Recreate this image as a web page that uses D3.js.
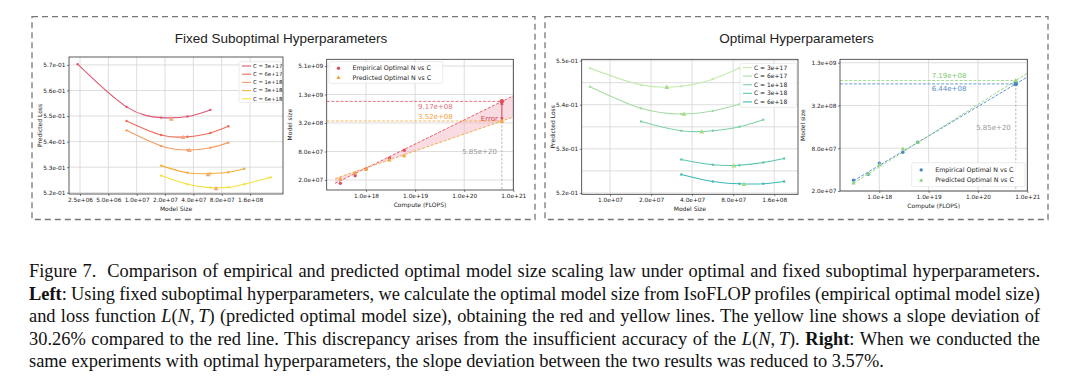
<!DOCTYPE html>
<html lang="en">
<head>
<meta charset="UTF-8">
<title>Figure 7 - optimal model size scaling</title>
<script src="https://d3js.org/d3.v7.min.js"></script>
<style>
  html, body { margin: 0; padding: 0; background: #fff; }
  svg { display: block; }
  .tick text { font-family: "DejaVu Sans", sans-serif; fill: #222; }
</style>
</head>
<body>
<div id="chart"></div>
<script>
// ---- data ----
const budgetLabels = ["C = 3e+17", "C = 6e+17", "C = 1e+18", "C = 3e+18", "C = 6e+18"];

// IsoFLOP profiles, fixed suboptimal hyperparameters
const fixedSizes = [
  [2.36e6, 7.8e6, 1.82e7, 3.46e7, 6.06e7],
  [7.8e6, 1.82e7, 3.46e7, 6.06e7, 9.4e7],
  [7.8e6, 1.82e7, 3.46e7, 6.06e7, 9.4e7],
  [1.82e7, 3.46e7, 6.06e7, 9.4e7, 1.39e8],
  [1.82e7, 3.46e7, 6.06e7, 9.4e7, 1.39e8, 2.65e8]
];
const fixedLoss = [
  [0.5703, 0.5536, 0.5494, 0.5498, 0.5524],
  [0.5481, 0.5426, 0.5419, 0.5434, 0.5460],
  [0.5444, 0.5383, 0.5367, 0.5376, 0.5396],
  [0.5306, 0.5278, 0.5275, 0.5280, 0.5294],
  [0.5267, 0.5233, 0.5220, 0.5221, 0.5233, 0.5260]
];
const fixedMinN = [2.33e7, 3.11e7, 3.63e7, 5.72e7, 6.96e7];
const fixedMinLoss = [0.5489, 0.5417, 0.5366, 0.5272, 0.5217];

// IsoFLOP profiles, optimal hyperparameters
const optSizes = [
  [7.13e6, 1.69e7, 3.33e7, 5.67e7, 8.9e7],
  [7.13e6, 1.69e7, 3.33e7, 5.67e7, 8.9e7],
  [1.69e7, 3.33e7, 5.67e7, 8.9e7, 1.33e8],
  [3.33e7, 5.67e7, 8.9e7, 1.33e8, 1.89e8],
  [3.33e7, 5.67e7, 8.9e7, 1.33e8, 1.89e8]
];
const optLoss = [
  [0.5483, 0.5445, 0.5442, 0.5458, 0.5483],
  [0.5441, 0.5392, 0.5379, 0.5386, 0.5401],
  [0.5362, 0.5341, 0.5341, 0.5350, 0.5366],
  [0.5276, 0.5264, 0.5263, 0.5269, 0.5278],
  [0.5242, 0.5226, 0.5221, 0.5221, 0.5226]
];
const optMinN = [2.61e7, 3.49e7, 4.7e7, 8.1e7, 9.6e7];
const optMinLoss = [0.5440, 0.5379, 0.5339, 0.5262, 0.5220];

// optimal N vs compute
const computeC = [3e17, 6e17, 1e18, 3e18, 6e18, 5.85e20];
const fixedEmpN = [1.70e7, 2.46e7, 3.42e7, 5.8e7, 8.5e7, 9.17e8];
const fixedPredN = [2.13e7, 2.85e7, 3.42e7, 5.3e7, 6.5e7, 3.52e8];
const optEmpN = [2.83e7, 3.45e7, 4.94e7, 7.04e7, 9.7e7, 6.44e8];
const optPredN = [2.59e7, 3.51e7, 4.68e7, 7.9e7, 9.7e7, 7.19e8];

// fitted power-law lines (end points)
const fixedFitC = [2.34e17, 1e21];
const fixedFitEmp = [1.7e7, 1.2e9];
const fixedFitPred = [2.14e7, 4.27e8];
const optFitC = [3e17, 1e21];
const optFitEmp = [2.78e7, 8.04e8];
const optFitPred = [2.56e7, 9.1e8];

// ticks
const sizeTicksFixed = [2.5e6, 5e6, 1e7, 2e7, 4e7, 8e7, 1.6e8];
const sizeTickLabelsFixed = ["2.5e+06", "5.0e+06", "1.0e+07", "2.0e+07", "4.0e+07", "8.0e+07", "1.6e+08"];
const lossTicksFixed = [0.52, 0.53, 0.54, 0.55, 0.56, 0.57];
const lossTickLabelsFixed = ["5.2e-01", "5.3e-01", "5.4e-01", "5.5e-01", "5.6e-01", "5.7e-01"];
const sizeTicksOpt = [1e7, 2e7, 4e7, 8e7, 1.6e8];
const sizeTickLabelsOpt = ["1.0e+07", "2.0e+07", "4.0e+07", "8.0e+07", "1.6e+08"];
const lossTicksOpt = [0.52, 0.53, 0.54, 0.55];
const lossTickLabelsOpt = ["5.2e-01", "5.3e-01", "5.4e-01", "5.5e-01"];
const lossGridOpt = [0.52, 0.525, 0.53, 0.535, 0.54, 0.545, 0.55];
const computeTicks = [1e18, 1e19, 1e20, 1e21];
const computeTickLabels = ["1.0e+18", "1.0e+19", "1.0e+20", "1.0e+21"];
const nTicksFixed = [2e7, 8e7, 3.2e8, 1.28e9, 5.12e9];
const nTickLabelsFixed = ["2.0e+07", "8.0e+07", "3.2e+08", "1.3e+09", "5.1e+09"];
const nTicksOpt = [2e7, 8e7, 3.2e8, 1.28e9];
const nTickLabelsOpt = ["2.0e+07", "8.0e+07", "3.2e+08", "1.3e+09"];

const fixedColors = ["#e05670", "#ee6a55", "#f59c62", "#f7ae3a", "#f5e03c"];
const optColors = ["#c6eaae", "#a6dca3", "#7fd0a8", "#5cc6b0", "#3cbab8"];

// ---- drawing ----
const W = 1080, H = 388;
const SANS = "'DejaVu Sans', sans-serif";
const svg = d3.select("#chart").append("svg").attr("width", W).attr("height", H);

// dashed group boxes
[[32, 16.7, 535, 219.5], [545, 16.7, 1048, 219.5]].forEach(b => {
  svg.append("rect").attr("x", b[0]).attr("y", b[1])
    .attr("width", b[2] - b[0]).attr("height", b[3] - b[1])
    .attr("fill", "none").attr("stroke", "#777").attr("stroke-width", 1.3)
    .attr("stroke-dasharray", "6,4");
});
svg.append("text").attr("x", 281).attr("y", 42.5).attr("text-anchor", "middle")
  .attr("font-family", "'Liberation Sans', Arial, sans-serif").attr("font-size", 13.5).attr("fill", "#222")
  .text("Fixed Suboptimal Hyperparameters");
svg.append("text").attr("x", 796.5).attr("y", 42.5).attr("text-anchor", "middle")
  .attr("font-family", "'Liberation Sans', Arial, sans-serif").attr("font-size", 13.5).attr("fill", "#222")
  .text("Optimal Hyperparameters");

function panel(o) {
  const x = (o.xlog ? d3.scaleLog() : d3.scaleLinear()).domain(o.xd).range([o.l, o.r]);
  const y = (o.ylog ? d3.scaleLog() : d3.scaleLinear()).domain(o.yd).range([o.b, o.t]);
  const g = svg.append("g");
  g.append("rect").attr("x", o.l).attr("y", o.t).attr("width", o.r - o.l).attr("height", o.b - o.t)
    .attr("fill", "#fff");
  g.append("g").selectAll("line").data(o.xgrid).join("line")
    .attr("x1", d => x(d)).attr("x2", d => x(d)).attr("y1", o.t).attr("y2", o.b)
    .attr("stroke", "#d4d4d4").attr("stroke-width", 0.8);
  g.append("g").selectAll("line").data(o.ygrid).join("line")
    .attr("y1", d => y(d)).attr("y2", d => y(d)).attr("x1", o.l).attr("x2", o.r)
    .attr("stroke", "#d4d4d4").attr("stroke-width", 0.8);

  const ax = g.append("g").attr("transform", `translate(0,${o.b})`)
    .call(d3.axisBottom(x).tickValues(o.xticks).tickFormat((d, i) => o.xlabels[i])
      .tickSize(2).tickPadding(1.5));
  const ay = g.append("g").attr("transform", `translate(${o.l},0)`)
    .call(d3.axisLeft(y).tickValues(o.yticks).tickFormat((d, i) => o.ylabels[i])
      .tickSize(2).tickPadding(1.5));
  [ax, ay].forEach(a => {
    a.select(".domain").remove();
    a.selectAll(".tick line").attr("stroke", "#333").attr("stroke-width", 0.6);
    a.selectAll(".tick text").attr("font-size", 5.8);
  });
  g.append("text").attr("x", (o.l + o.r) / 2).attr("y", o.b + 16.5).attr("text-anchor", "middle")
    .attr("font-family", SANS).attr("font-size", 6).attr("fill", "#222").text(o.xtitle);
  g.append("text").attr("transform", `translate(${o.ytx},${(o.t + o.b) / 2}) rotate(-90)`)
    .attr("text-anchor", "middle").attr("dy", "0.35em")
    .attr("font-family", SANS).attr("font-size", 6).attr("fill", "#222").text(o.ytitle);
  const marks = svg.append("g");
  const top = svg.append("g");
  top.append("rect").attr("x", o.l).attr("y", o.t).attr("width", o.r - o.l).attr("height", o.b - o.t)
    .attr("fill", "none").attr("stroke", "#333").attr("stroke-width", 0.8);
  return { x, y, marks, top, o };
}

function triangle(sel, cx, cy, s, color) {
  sel.append("path")
    .attr("d", `M${cx},${cy - s}L${cx + s * 0.95},${cy + s * 0.7}L${cx - s * 0.95},${cy + s * 0.7}Z`)
    .attr("fill", color);
}

function isoflop(p, sizes, losses, minN, minLoss, colors, triColor, legendBox) {
  const line = d3.line().x(d => p.x(d[0])).y(d => p.y(d[1])).curve(d3.curveNatural);
  sizes.forEach((s, k) => {
    const pts = s.map((n, i) => [n, losses[k][i]]);
    p.marks.append("path").attr("d", line(pts)).attr("fill", "none")
      .attr("stroke", colors[k]).attr("stroke-width", 1.1);
    p.marks.selectAll(null).data(pts).join("circle")
      .attr("cx", d => p.x(d[0])).attr("cy", d => p.y(d[1])).attr("r", 1.2).attr("fill", colors[k]);
  });
  minN.forEach((n, k) => triangle(p.marks, p.x(n), p.y(minLoss[k]), 2.6, triColor));
  // legend
  const [lx, ly, lw, lh, fs, step, y0] = legendBox;
  p.top.append("rect").attr("x", lx).attr("y", ly).attr("width", lw).attr("height", lh).attr("rx", 1.5)
    .attr("fill", "#fff").attr("fill-opacity", 0.85).attr("stroke", "#ddd").attr("stroke-width", 0.6);
  budgetLabels.forEach((t, k) => {
    const yy = y0 + k * step;
    p.top.append("line").attr("x1", lx + 3).attr("x2", lx + 12).attr("y1", yy).attr("y2", yy)
      .attr("stroke", colors[k]).attr("stroke-width", 1.1);
    p.top.append("text").attr("x", lx + 14).attr("y", yy).attr("dy", "0.35em")
      .attr("font-family", SANS).attr("font-size", fs).attr("fill", "#222").text(t);
  });
}

function scaling(p, emp, pred, fitEmp, fitPred, cEmp, cPred, cFill, lblE, lblP, lblEdy, lblPdy, lblX, showError, legendPos) {
  const { x, y, marks, top, o } = p;
  const last = computeC.length - 1;
  const xc = x(computeC[last]);
  if (cFill) {
    const area = d3.area().x(d => x(d[0])).y0(d => y(d[1])).y1(d => y(d[2]));
    marks.append("path").attr("d", area(fixedFitC.map((c, i) => [c, fitEmp[i], fitPred[i]])))
      .attr("fill", cFill).attr("fill-opacity", 0.45);
  }
  const fitC = cFill ? fixedFitC : optFitC;
  const fl = d3.line().x(d => x(d[0])).y(d => y(d[1]));
  [[fitEmp, cEmp], [fitPred, cPred]].forEach(([f, c]) => {
    marks.append("path").attr("d", fl(fitC.map((cc, i) => [cc, f[i]])))
      .attr("fill", "none").attr("stroke", c).attr("stroke-width", 0.9).attr("stroke-dasharray", "3,1.6");
  });
  // reference lines to the extrapolated point
  [[emp[last], cEmp], [pred[last], cPred]].forEach(([n, c]) => {
    marks.append("line").attr("x1", o.l).attr("x2", xc).attr("y1", y(n)).attr("y2", y(n))
      .attr("stroke", c).attr("stroke-width", 0.8).attr("stroke-dasharray", "3,1.6");
  });
  const lowY = Math.max(y(emp[last]), y(pred[last]));
  marks.append("line").attr("x1", xc).attr("x2", xc).attr("y1", lowY).attr("y2", o.b)
    .attr("stroke", "#aaa").attr("stroke-width", 0.8).attr("stroke-dasharray", "2.5,1.6");
  marks.append("text").attr("x", xc - 5).attr("y", o.yC).attr("dy", "0.35em").attr("text-anchor", "end")
    .attr("font-family", SANS).attr("font-size", 7).attr("fill", "#999").text("5.85e+20");
  marks.append("text").attr("x", lblX).attr("y", y(emp[last]) + lblEdy).attr("dy", "0.35em")
    .attr("font-family", SANS).attr("font-size", 7).attr("fill", lblE[1]).text(lblE[0]);
  marks.append("text").attr("x", lblX).attr("y", y(pred[last]) + lblPdy).attr("dy", "0.35em")
    .attr("font-family", SANS).attr("font-size", 7).attr("fill", lblP[1]).text(lblP[0]);
  if (showError) {
    const y1 = y(emp[last]), y2 = y(pred[last]);
    marks.append("line").attr("x1", xc).attr("x2", xc).attr("y1", y1 + 2).attr("y2", y2 - 2)
      .attr("stroke", "#d94050").attr("stroke-width", 1);
    marks.append("path").attr("d", `M${xc},${y1}l-1.8,3.5h3.6Z M${xc},${y2}l-1.8,-3.5h3.6Z`).attr("fill", "#d94050");
    marks.append("text").attr("x", xc - 4).attr("y", (y1 + y2) / 2 + 7.5).attr("dy", "0.35em")
      .attr("text-anchor", "end").attr("font-family", SANS).attr("font-size", 7).attr("fill", "#d94050")
      .text("Error");
  }
  // points
  marks.selectAll(null).data(computeC).join("circle")
    .attr("cx", d => x(d)).attr("cy", (d, i) => y(emp[i])).attr("r", (d, i) => i === last ? 2.3 : 1.7)
    .attr("fill", cEmp);
  computeC.forEach((c, i) => triangle(marks, x(c), y(pred[i]), i === last ? 2.6 : 2.2, cPred));
  // legend
  const [lx, ly, lw, lh] = legendPos;
  top.append("rect").attr("x", lx).attr("y", ly).attr("width", lw).attr("height", lh).attr("rx", 1.5)
    .attr("fill", "#fff").attr("fill-opacity", 0.85).attr("stroke", "#ddd").attr("stroke-width", 0.6);
  const r1 = ly + lh * 0.3, r2 = ly + lh * 0.73;
  top.append("circle").attr("cx", lx + 9.5).attr("cy", r1).attr("r", 1.7).attr("fill", cEmp);
  triangle(top, lx + 9.5, r2, 2.2, cPred);
  top.append("text").attr("x", lx + 23.5).attr("y", r1).attr("dy", "0.35em").attr("font-family", SANS)
    .attr("font-size", 6.3).attr("fill", "#222").text("Empirical Optimal N vs C");
  top.append("text").attr("x", lx + 23.5).attr("y", r2).attr("dy", "0.35em").attr("font-family", SANS)
    .attr("font-size", 6.3).attr("fill", "#222").text("Predicted Optimal N vs C");
}

// panel 1: fixed suboptimal IsoFLOP
const p1 = panel({
  l: 69, r: 283, t: 57, b: 194, xlog: true, xd: [1.91e6, 3.58e8], yd: [0.5195, 0.5731],
  xticks: sizeTicksFixed, xlabels: sizeTickLabelsFixed, yticks: lossTicksFixed, ylabels: lossTickLabelsFixed,
  xgrid: sizeTicksFixed, ygrid: lossTicksFixed, xtitle: "Model Size", ytitle: "Predicted Loss", ytx: 40
});
isoflop(p1, fixedSizes, fixedLoss, fixedMinN, fixedMinLoss, fixedColors, "#f4a77a",
  [239, 61.7, 42, 40.6, 5.3, 8.2, 66]);

// panel 2: fixed suboptimal N vs C
const p2 = panel({
  l: 326.7, r: 513.3, t: 59.3, b: 190, xlog: true, ylog: true, xd: [1.58e17, 1e21], yd: [1.23e7, 7.1e9],
  xticks: computeTicks, xlabels: computeTickLabels, yticks: nTicksFixed, ylabels: nTickLabelsFixed,
  xgrid: computeTicks, ygrid: nTicksFixed, xtitle: "Compute (FLOPS)", ytitle: "Model size", ytx: 290, yC: 151.7
});
scaling(p2, fixedEmpN, fixedPredN, fixedFitEmp, fixedFitPred, "#e0505e", "#f5a33c", "#f2b2bc",
  ["9.17e+08", "#e0707a"], ["3.52e+08", "#f5a040"], 5.5, -4.5, 418, true, [329, 61.7, 113.7, 21.6]);

// panel 3: optimal IsoFLOP
const p3 = panel({
  l: 581.7, r: 798, t: 59.3, b: 194.3, xlog: true, xd: [6.2e6, 2.39e8], yd: [0.5197, 0.5503],
  xticks: sizeTicksOpt, xlabels: sizeTickLabelsOpt, yticks: lossTicksOpt, ylabels: lossTickLabelsOpt,
  xgrid: sizeTicksOpt, ygrid: lossGridOpt, xtitle: "Model Size", ytitle: "Predicted Loss", ytx: 552.7
});
isoflop(p3, optSizes, optLoss, optMinN, optMinLoss, optColors, "#a5dc88",
  [740, 63.3, 56.7, 44, 6, 8.6, 67.5]);

// panel 4: optimal N vs C
const p4 = panel({
  l: 840, r: 1027.3, t: 59.3, b: 191, xlog: true, ylog: true, xd: [1.6e17, 1e21], yd: [2e7, 1.43e9],
  xticks: computeTicks, xlabels: computeTickLabels, yticks: nTicksOpt, ylabels: nTickLabelsOpt,
  xgrid: computeTicks, ygrid: nTicksOpt, xtitle: "Compute (FLOPS)", ytitle: "Model size", ytx: 802.7, yC: 127.7
});
scaling(p4, optEmpN, optPredN, optFitEmp, optFitPred, "#4a86c8", "#8fd47c", null,
  ["6.44e+08", "#5a8ccc"], ["7.19e+08", "#80c870"], 5, -5.3, 931.7, false, [911.7, 162.7, 113.3, 24]);

// ---- caption (justified serif text) ----
const captionLines = [
  [["Figure 7.  Comparison of empirical and predicted optimal model size scaling law under optimal and fixed suboptimal hyperparameters.", ""]],
  [["Left", "b"], [": Using fixed suboptimal hyperparameters, we calculate the optimal model size from IsoFLOP profiles (empirical optimal model size)", ""]],
  [["and loss function ", ""], ["L", "i"], ["(", ""], ["N", "i"], [",\u2009", ""], ["T", "i"], [")", ""],
   [" (predicted optimal model size), obtaining the red and yellow lines. The yellow line shows a slope deviation of", ""]],
  [["30.26% compared to the red line. This discrepancy arises from the insufficient accuracy of the ", ""], ["L", "i"], ["(", ""],
   ["N", "i"], [",\u2009", ""], ["T", "i"], [").", ""], [" Right", "b"], [": When we conducted the", ""]],
  [["same experiments with optimal hyperparameters, the slope deviation between the two results was reduced to 3.57%.", ""]]
];
const capLeft = 29, capRight = 1040, capY0 = 277, capStep = 22.5;
captionLines.forEach((segs, li) => {
  const t = svg.append("text").attr("x", capLeft).attr("y", capY0 + li * capStep)
    .attr("font-family", "'Liberation Serif', 'Times New Roman', serif").attr("font-size", 18.4)
    .attr("fill", "#111").attr("xml:space", "preserve").style("white-space", "pre");
  segs.forEach(([s, st]) => {
    const ts = t.append("tspan").text(s);
    if (st === "b") ts.attr("font-weight", "bold");
    if (st === "i") ts.attr("font-style", "italic");
  });
  if (li < captionLines.length - 1) {
    const natural = t.node().getComputedTextLength();
    const spaces = segs.map(d => d[0]).join("").split(" ").length - 1;
    t.style("word-spacing", ((capRight - capLeft - natural) / spaces) + "px");
  }
});
</script>
</body>
</html>
